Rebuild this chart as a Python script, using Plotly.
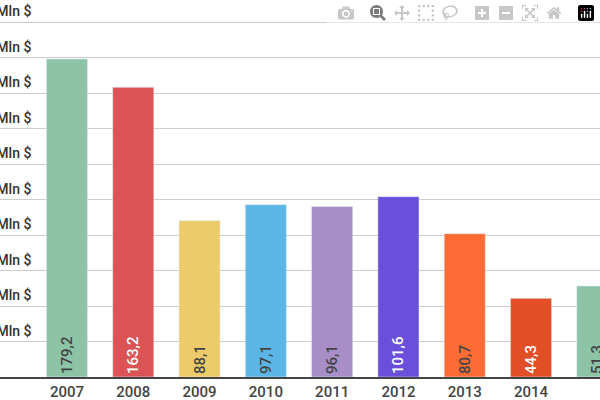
import plotly.graph_objects as go

years = ["2007","2008","2009","2010","2011","2012","2013","2014","2015"]
values = [179.2,163.2,88.1,97.1,96.1,101.6,80.7,44.3,51.3]
labels = ["179,2","163,2","88,1","97,1","96,1","101,6","80,7","44,3","51,3"]
colors = ["#8DC3A7","#DC5356","#EECB6A","#5BB5E5","#A78EC6","#6A4FDB","#FF6B35","#E24E25","#8DC3A7"]
text_colors = ["#444","#fff","#444","#444","#444","#fff","#444","#fff","#444"]
yticks = [20,40,60,80,100,120,140,160,180,200]
ytick_labels = [f"{v} Mln $" for v in yticks]

xs = list(range(len(years)))
fig = go.Figure(go.Bar(
    x=xs, y=values, marker_color=colors, width=0.62,
    text=labels, textposition="inside", insidetextanchor="start",
    textangle=-90, constraintext="none",
    textfont=dict(family="Roboto", size=15, color=text_colors, weight=500),
))
for v, t in zip(yticks, ytick_labels):
    fig.add_annotation(x=0, xref="paper", y=v, yref="y", text=t, showarrow=False,
                       xanchor="right", yanchor="bottom", xshift=33, yshift=1,
                       font=dict(family="Roboto", size=14, color="#333", weight=500))
fig.update_layout(
    width=600, height=400, margin=dict(l=0, r=0, t=0, b=23),
    plot_bgcolor="white", paper_bgcolor="white", showlegend=False,
    xaxis=dict(range=[-1.01, 8.04], tickvals=xs, ticktext=years, showgrid=False,
               showline=True, linecolor="#444", linewidth=2,
               tickfont=dict(family="Roboto", size=15, color="#444", weight=500), ticks=""),
    yaxis=dict(range=[0, 212.4], tickvals=yticks, showticklabels=False,
               gridcolor="#ccc", gridwidth=1, zeroline=False),
)
fig.write_html("out.html", post_script="document.body.style.margin='0';")
